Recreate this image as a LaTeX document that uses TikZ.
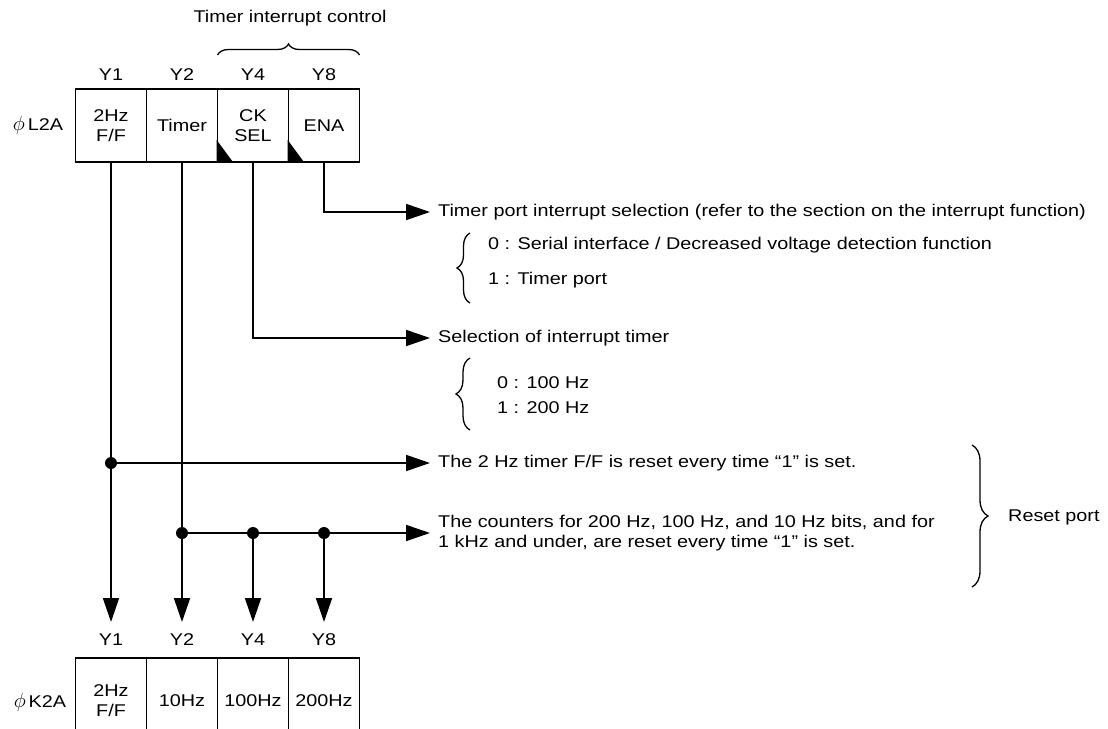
\documentclass[tikz,border=0pt]{standalone}
\usepackage{fontspec}
\setmainfont[FakeStretch=1.165]{Liberation Sans}
\usetikzlibrary{arrows.meta,decorations.pathreplacing,calc}
\newcommand{\bigphi}{{\fontsize{21}{21}\selectfont$\phi$}}
\begin{document}
\begin{tikzpicture}[x=1pt,y=-1pt,
  every node/.style={font=\fontsize{17}{20}\selectfont},
  cell/.style={draw,line width=1.8pt,minimum width=71pt,minimum height=73pt,inner sep=0pt,align=center},
  lbl/.style={inner sep=0pt},
  txt/.style={anchor=west,inner xsep=8pt,inner ysep=0pt,align=left},
  arr/.style={-{Triangle[length=24pt,width=16pt]},line width=1.8pt},
  jdot/.style={circle,fill,inner sep=0pt,minimum size=12pt},
  brc/.style={line width=1.3pt,decorate}]
\useasboundingbox (0,0) rectangle (1108,728);
\clip (0,0) rectangle (1108,728);

% top register
\node[lbl] (l2a) at (38,125) {\bigphi\,L2A};
\node[cell] (c1) at (111,125.5) {2Hz\\F/F};
\node[cell] (c2) at (182,125.5) {Timer};
\node[cell] (c3) at (253,125.5) {CK\\SEL};
\node[cell] (c4) at (324,125.5) {ENA};
\fill (c3.south west) -- ++(0,-23) -- ++(17,23) -- cycle;
\fill (c4.south west) -- ++(0,-23) -- ++(17,23) -- cycle;
\node[lbl] (yt1) at (111,75) {Y1};
\node[lbl] (yt2) at (182,75) {Y2};
\node[lbl] (yt4) at (253,75) {Y4};
\node[lbl] (yt8) at (324,75) {Y8};
\draw[brc,decoration={brace,amplitude=11pt}] (217.5,55) -- (359.5,55);
\node[lbl] (tic) at (290,18) {Timer interrupt control};

% bottom register
\node[lbl] (k2a) at (40,702) {\bigphi\,K2A};
\node[cell,minimum height=86pt] (b1) at (111,701) {2Hz\\F/F};
\node[cell,minimum height=86pt] (b2) at (182,701) {10Hz};
\node[cell,minimum height=86pt] (b3) at (253,701) {100Hz};
\node[cell,minimum height=86pt] (b4) at (324,701) {200Hz};
\node[lbl] (yb1) at (111,640) {Y1};
\node[lbl] (yb2) at (182,640) {Y2};
\node[lbl] (yb4) at (253,640) {Y4};
\node[lbl] (yb8) at (324,640) {Y8};
\coordinate (tipy) at (0,622);

% texts
\node[txt] (t1) at (430,212) {Timer port interrupt selection (refer to the section on the interrupt function)};
\node[lbl,anchor=west] (t1a) at (488,245) {0 : Serial interface / Decreased voltage detection function};
\node[lbl,anchor=west] (t1b) at (488,280) {1 : Timer port};
\draw[brc,decoration={brace,amplitude=13pt}] (470,303) -- (470,233);

\node[txt] (t2) at (430,338) {Selection of interrupt timer};
\node[lbl,anchor=west] (t2a) at (497,383) {0 : 100 Hz};
\node[lbl,anchor=west] (t2b) at (497,408) {1 : 200 Hz};
\draw[brc,decoration={brace,amplitude=14pt}] (470,430) -- (470,358);

\node[txt] (t3) at (430,463) {The 2 Hz timer F/F is reset every time “1” is set.};
\node[txt] (t4) at (430,533) {The counters for 200 Hz, 100 Hz, and 10 Hz bits, and for\\1 kHz and under, are reset every time “1” is set.};
\draw[brc,decoration={brace,amplitude=16pt}] (972,445) -- (972,587);
\node[lbl,anchor=west] (rp) at (1008,517) {Reset port};

% connectors
\draw[arr] (c4.south) |- (t1.west);
\draw[arr] (c3.south) |- (t2.west);
\draw[arr] (c1.south) -- (c1.south |- tipy);
\draw[arr] (c2.south) -- (c2.south |- tipy);
\coordinate (j1) at (c1.south |- t3.west);
\coordinate (j2) at (c2.south |- t4.west);
\coordinate (j4) at (c3.south |- t4.west);
\coordinate (j8) at (c4.south |- t4.west);
\draw[arr] (j1) -- (t3.west);
\draw[arr] (j2) -- (t4.west);
\draw[arr] (j4) -- (j4 |- tipy);
\draw[arr] (j8) -- (j8 |- tipy);
\node[jdot] at (j1) {};
\node[jdot] at (j2) {};
\node[jdot] at (j4) {};
\node[jdot] at (j8) {};
\end{tikzpicture}
\end{document}
